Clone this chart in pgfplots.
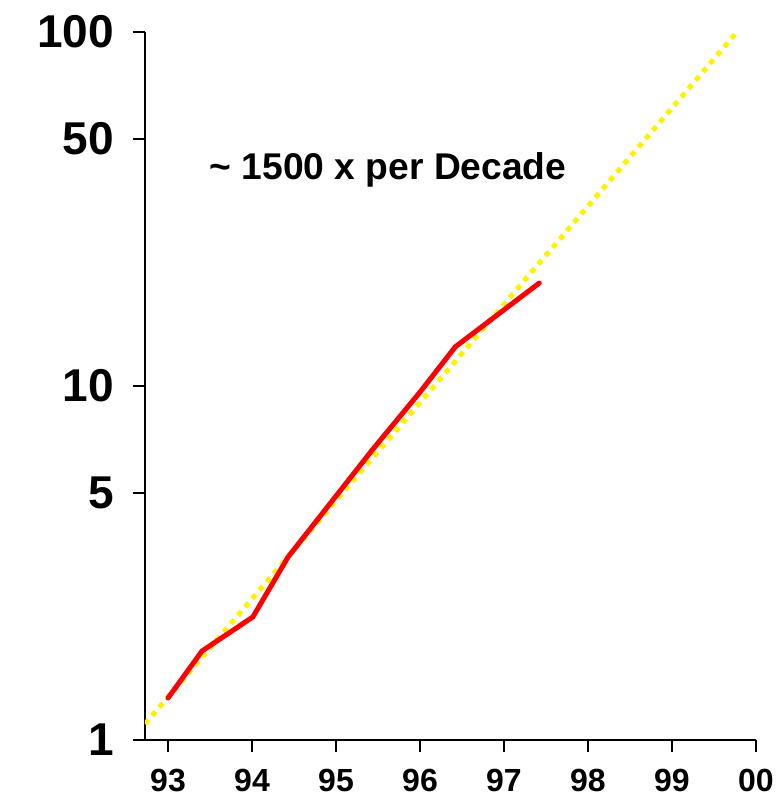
\documentclass[border=0pt]{standalone}
\usepackage{pgfplots}
\pgfplotsset{compat=1.18}
\usepackage{fontspec}
\setmainfont{Liberation Sans}
\begin{document}
\begin{tikzpicture}
\begin{axis}[
  scale only axis, width=305.5pt, height=354pt,
  ymode=log, ymin=1, ymax=100, xmin=92.726, xmax=100,
  axis x line=bottom, axis y line=left,
  axis line style={line width=1pt, -},
  ytick={1,5,10,50,100}, yticklabels={1,5,10,50,100},
  yminorticks=false,
  xtick={93,94,95,96,97,98,99,100}, xticklabels={93,94,95,96,97,98,99,00},
  tick align=outside, major tick length=6pt,
  tick style={line width=1pt, black},
  /pgf/number format/assume math mode=true,
  xticklabel style={font=\fontsize{16}{16}\selectfont\bfseries, yshift=-5pt},
  yticklabel style={font=\fontsize{23}{23}\selectfont\bfseries, xshift=-6pt},
]
\addplot[yellow, line width=2.5pt, line cap=butt, dash pattern=on 2.7pt off 2.8pt] coordinates {(92.726,1.11) (99.774,100)};
\addplot[red, line width=2.5pt, line join=round, line cap=round] coordinates {
(93.00,1.314) (93.405,1.784) (94.01,2.226) (94.43,3.29) (95.43,6.59) (96.0,9.61) (96.42,12.9) (97.42,19.54)};
\node[font=\fontsize{18.6}{18.6}\selectfont\bfseries] at (axis cs:95.62,40.7) {\char`\~\ 1500 x per Decade};
\coordinate (sw) at (rel axis cs:0,0);
\coordinate (ne) at (rel axis cs:1,1);
\node[rotate=90, font=\fontsize{21}{21}\selectfont\bfseries] at ([xshift=-54pt]rel axis cs:0,0.607) {Millions};
\end{axis}
\pgfresetboundingbox
\path[use as bounding box] ([xshift=-72.5pt,yshift=-29pt]sw) rectangle ([xshift=12pt,yshift=16pt]ne);
\end{tikzpicture}
\end{document}
